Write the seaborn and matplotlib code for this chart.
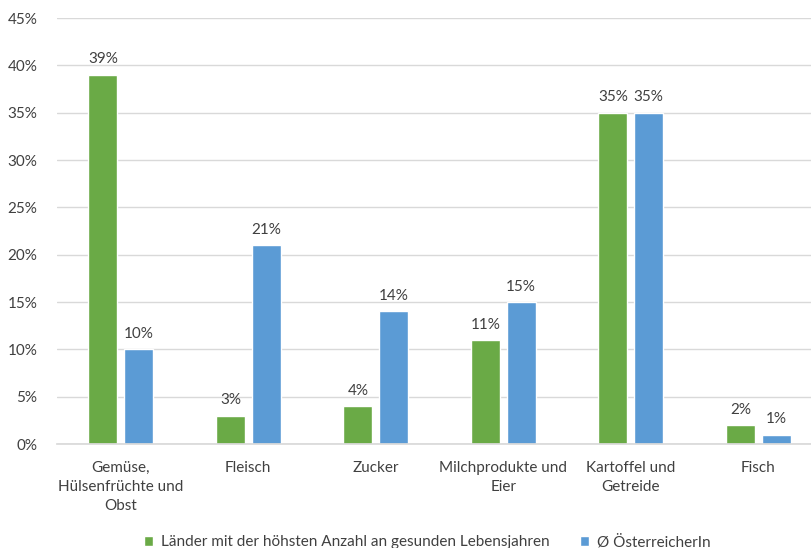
import matplotlib
matplotlib.use("Agg")
import matplotlib.pyplot as plt
import seaborn as sns
import pandas as pd
from matplotlib.ticker import FuncFormatter

categories = ["Gemüse,\nHülsenfrüchte und\nObst", "Fleisch", "Zucker",
              "Milchprodukte und\nEier", "Kartoffel und\nGetreide", "Fisch"]
series_names = ["Länder mit der höhsten Anzahl an gesunden Lebensjahren", "Ø ÖsterreicherIn"]
values_laender = [39, 3, 4, 11, 35, 2]
values_at = [10, 21, 14, 15, 35, 1]
colors = ["#6aaa46", "#5b9bd5"]

df = pd.DataFrame({
    "Kategorie": categories * 2,
    "Serie": [series_names[0]] * len(categories) + [series_names[1]] * len(categories),
    "Wert": values_laender + values_at,
})

sns.set_theme(style="white")
plt.rcParams["font.family"] = ["Lato", "DejaVu Sans"]
text_color = "#404040"
fs = 11

fig = plt.figure(figsize=(8.11, 5.48), dpi=100)
ax = fig.add_axes([57/811, 104/548, (822-57)/811, (444-18)/548])

sns.barplot(data=df, x="Kategorie", y="Wert", hue="Serie", palette=colors,
            width=0.56, gap=0.19, ax=ax, legend=True, saturation=1)

ax.set_ylim(0, 45)
ax.set_xlim(-0.5, 5.5)
ax.set_yticks(range(0, 46, 5))
ax.yaxis.set_major_formatter(FuncFormatter(lambda v, p: f"{int(v)}%"))
ax.grid(axis="y", color="#d9d9d9", linewidth=1)
ax.set_axisbelow(True)
for s in ["top", "right", "left"]:
    ax.spines[s].set_visible(False)
ax.spines["bottom"].set_color("#d9d9d9")
ax.set_xlabel("")
ax.set_ylabel("")
ax.tick_params(axis="both", length=0, labelsize=fs, colors=text_color)
ax.tick_params(axis="x", pad=12)
ax.tick_params(axis="y", pad=14)
for lbl in ax.get_xticklabels():
    lbl.set_linespacing(1.45)

for cont in ax.containers:
    ax.bar_label(cont, labels=[f"{int(v)}%" for v in cont.datavalues],
                 padding=6, fontsize=fs, color=text_color)

handles, labels = ax.get_legend_handles_labels()
ax.get_legend().remove()
fig.legend(handles, labels, loc="center", bbox_to_anchor=(427/811, 6/548), ncol=2,
           frameon=False, fontsize=fs, labelcolor=text_color, handlelength=0.6,
           handleheight=0.6, handletextpad=0.5, columnspacing=2.0)

fig.savefig("out.png", dpi=100)
